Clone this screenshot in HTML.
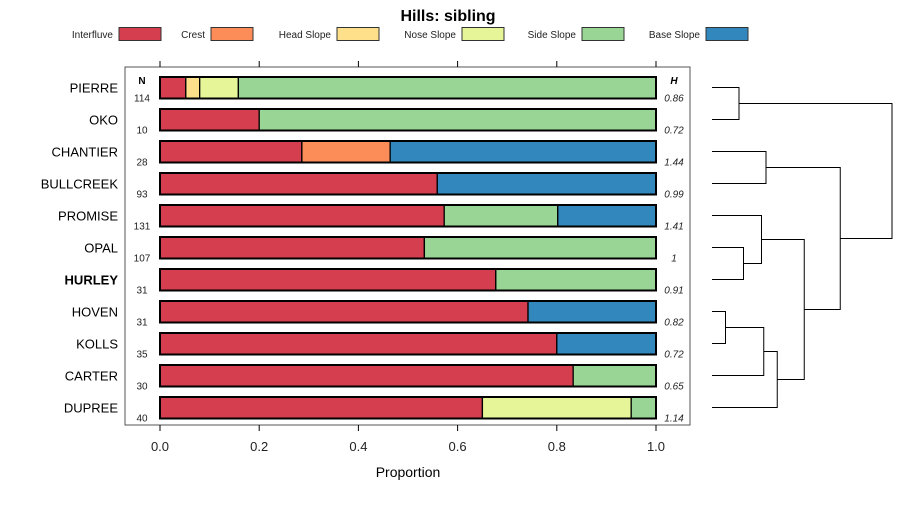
<!DOCTYPE html>
<html><head><meta charset="utf-8"><style>
body{margin:0;background:#fff}
svg text{font-family:"Liberation Sans",sans-serif}
</style></head><body>
<svg id="chart" width="900" height="500" xmlns="http://www.w3.org/2000/svg">
<text x="448" y="21" font-size="16" font-weight="bold" text-anchor="middle">Hills: sibling</text>
<g id="legend"></g>
<rect x="125" y="67" width="565" height="358" fill="none" stroke="#555" stroke-width="1"/>
<g id="bars"></g>
<g id="axis"></g>
<text x="408" y="477" font-size="14" text-anchor="middle">Proportion</text>
<text x="142" y="84" font-size="10" font-weight="bold" text-anchor="middle">N</text>
<text x="674" y="84" font-size="10" font-weight="bold" font-style="italic" text-anchor="middle">H</text>
<g id="dendro" stroke="#000" stroke-width="1" fill="none"></g>
</svg>
<script>
const classes=["Interfluve","Crest","Head Slope","Nose Slope","Side Slope","Base Slope"];
const colors=["#D53E4F","#FC8D59","#FEE08B","#E6F598","#99D594","#3288BD"];
const sites=["PIERRE","OKO","CHANTIER","BULLCREEK","PROMISE","OPAL","HURLEY","HOVEN","KOLLS","CARTER","DUPREE"];
const nVals=[114,10,28,93,131,107,31,31,35,30,40];
const hVals=["0.86","0.72","1.44","0.99","1.41","1","0.91","0.82","0.72","0.65","1.14"];
const interfluve=[0.052,0.2,0.286,0.559,0.573,0.533,0.677,0.742,0.8,0.833,0.65];
const crest=[0,0,0.178,0,0,0,0,0,0,0,0];
const headSlope=[0.028,0,0,0,0,0,0,0,0,0,0];
const noseSlope=[0.078,0,0,0,0,0,0,0,0,0,0.3];
const sideSlope=[0.842,0.8,0,0,0.229,0.467,0.323,0,0,0.167,0.05];
const baseSlope=[0,0,0.536,0.441,0.198,0,0,0.258,0.2,0,0];
const xTicks=[0,0.2,0.4,0.6,0.8,1];
const xTickLabels=["0.0","0.2","0.4","0.6","0.8","1.0"];
const merges=[[0,1,0.12],[2,3,0.24],[5,6,0.14],[4,13,0.22],[7,8,0.06],[15,9,0.23],[16,10,0.29],[14,17,0.41],[12,18,0.57],[11,19,0.8]];
const NS="http://www.w3.org/2000/svg";
const X=v=>160+v*496, Y=i=>87.5+i*32;
function mk(t,a,p){const e=document.createElementNS(NS,t);for(const k in a)e.setAttribute(k,a[k]);p.appendChild(e);return e;}
const lg=document.getElementById('legend');
const lgText=[113,205,331,456,576,700];
classes.forEach((c,i)=>{
 const t=mk('text',{x:lgText[i],y:38,'font-size':10,'text-anchor':'end',fill:'#222'},lg);t.textContent=c;
 
 
 const r=mk('rect',{x:lgText[i]+6,y:27.5,width:42,height:13,fill:colors[i],stroke:'#333','stroke-width':1},lg);
 
 
});
const bg=document.getElementById('bars');
const series=[interfluve,crest,headSlope,noseSlope,sideSlope,baseSlope];
sites.forEach((s,i)=>{
 const y=Y(i);
 const lab=mk('text',{x:118,y:y+5,'font-size':13,'text-anchor':'end','font-weight':s==="HURLEY"?'bold':'normal'},bg);lab.textContent=s;
 
 
 const n=mk('text',{x:142,y:y+14,'font-size':10,'text-anchor':'middle',fill:'#222'},bg);n.textContent=nVals[i];
 
 
 const h=mk('text',{x:674,y:y+14,'font-size':10,'font-style':'italic','text-anchor':'middle',fill:'#222'},bg);h.textContent=hVals[i];
 
 
 let acc=0;
 series.forEach((sv,k)=>{
  const v=sv[i]; if(v<=0) return;
  const r=mk('rect',{x:X(acc),y:y-10.5,width:X(acc+v)-X(acc),height:21.5,fill:colors[k],stroke:'#000','stroke-width':1.3},bg);
  
  
  acc+=v;
 });
 const o=mk('rect',{x:X(0),y:y-10.5,width:X(acc)-X(0),height:21.5,fill:'none',stroke:'#000','stroke-width':2},bg);
 
 
});
const ax=document.getElementById('axis');
xTicks.forEach((t,i)=>{
 mk('line',{x1:X(t),x2:X(t),y1:425,y2:431,stroke:'#000'},ax);
 mk('line',{x1:X(t),x2:X(t),y1:61,y2:67,stroke:'#000'},ax);
 const tx=mk('text',{x:X(t),y:451,'font-size':13,'text-anchor':'middle',fill:'#222'},ax);tx.textContent=xTickLabels[i];
 
 
});
const dg=document.getElementById('dendro');
const DX=h=>712+h/0.8*180;
const nodes=sites.map((s,i)=>({y:Y(i),x:712}));
merges.forEach(m=>{
 const a=nodes[m[0]],b=nodes[m[1]],hx=DX(m[2]);
 const p=mk('path',{d:`M${a.x},${a.y}H${hx}V${b.y}H${b.x}`},dg);
 
 
 nodes.push({x:hx,y:(a.y+b.y)/2});
});
</script>
</body></html>
